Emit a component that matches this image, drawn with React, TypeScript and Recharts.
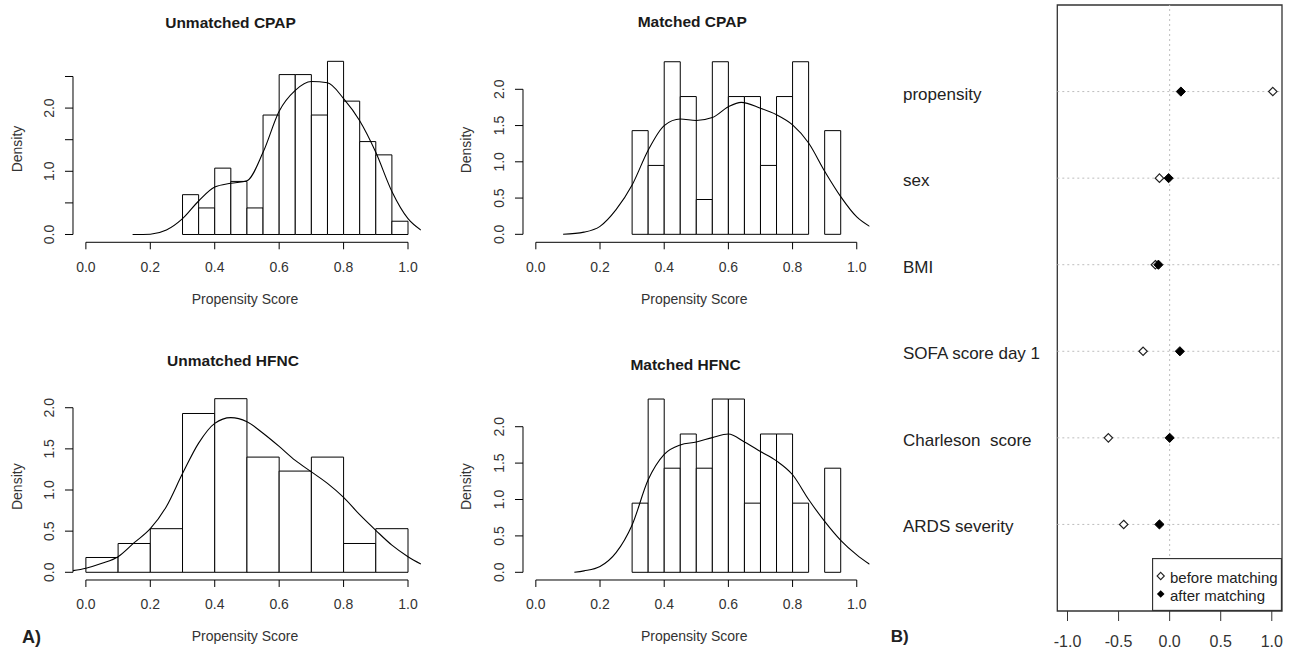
import React from 'react';
import {
  ComposedChart, XAxis, YAxis, Line, ReferenceArea, ReferenceLine, Scatter, Legend,
} from 'recharts';

// ---------------- DATA ----------------
const histXTicks = [0, 0.2, 0.4, 0.6, 0.8, 1.0];

// Unmatched CPAP
const ucBreaks = [0.3, 0.35, 0.4, 0.45, 0.5, 0.55, 0.6, 0.65, 0.7, 0.75, 0.8, 0.85, 0.9, 0.95, 1.0];
const ucDensity = [0.63, 0.42, 1.05, 0.84, 0.42, 1.89, 2.53, 2.53, 1.89, 2.74, 2.11, 1.47, 1.26, 0.21];
const ucCurveX = [0.145, 0.2, 0.25, 0.3, 0.35, 0.4, 0.45, 0.5, 0.55, 0.6, 0.65, 0.7, 0.75, 0.8, 0.85, 0.9, 0.95, 1.0, 1.04];
const ucCurveY = [0, 0.005, 0.07, 0.25, 0.53, 0.75, 0.81, 0.85, 1.3, 1.95, 2.28, 2.42, 2.4, 2.15, 1.8, 1.3, 0.68, 0.25, 0.07];
const ucYTicks = [0, 0.5, 1, 1.5, 2, 2.5];
const ucYLabels = [0, 1, 2];

// Matched CPAP
const mcBreaks = [0.3, 0.35, 0.4, 0.45, 0.5, 0.55, 0.6, 0.65, 0.7, 0.75, 0.8, 0.85, 0.9, 0.95];
const mcDensity = [1.43, 0.95, 2.38, 1.9, 0.48, 2.38, 1.9, 1.9, 0.95, 1.9, 2.38, 0, 1.43];
const mcCurveX = [0.085, 0.15, 0.2, 0.25, 0.3, 0.35, 0.4, 0.45, 0.5, 0.55, 0.6, 0.64, 0.7, 0.75, 0.8, 0.85, 0.9, 0.95, 1.0, 1.04];
const mcCurveY = [0, 0.03, 0.11, 0.34, 0.68, 1.16, 1.5, 1.59, 1.57, 1.61, 1.76, 1.82, 1.74, 1.65, 1.51, 1.26, 0.87, 0.52, 0.24, 0.11];

// Unmatched HFNC
const uhBreaks = [0, 0.1, 0.2, 0.3, 0.4, 0.5, 0.6, 0.7, 0.8, 0.9, 1.0];
const uhDensity = [0.18, 0.35, 0.53, 1.93, 2.11, 1.4, 1.23, 1.4, 0.35, 0.53];
const uhCurveX = [-0.04, 0, 0.05, 0.1, 0.15, 0.2, 0.25, 0.3, 0.35, 0.4, 0.45, 0.5, 0.55, 0.6, 0.65, 0.7, 0.75, 0.8, 0.85, 0.9, 0.95, 1.0, 1.04];
const uhCurveY = [0.02, 0.05, 0.11, 0.19, 0.36, 0.53, 0.8, 1.2, 1.57, 1.81, 1.88, 1.83, 1.69, 1.53, 1.36, 1.22, 1.08, 0.91, 0.7, 0.51, 0.33, 0.19, 0.1];

// Matched HFNC
const mhBreaks = [0.3, 0.35, 0.4, 0.45, 0.5, 0.55, 0.6, 0.65, 0.7, 0.75, 0.8, 0.85, 0.9, 0.95];
const mhDensity = [0.95, 2.38, 1.43, 1.9, 1.43, 2.38, 2.38, 0.95, 1.9, 1.9, 0.95, 0, 1.43];
const mhCurveX = [0.12, 0.15, 0.2, 0.25, 0.3, 0.35, 0.4, 0.45, 0.5, 0.55, 0.6, 0.65, 0.7, 0.75, 0.8, 0.85, 0.9, 0.95, 1.0, 1.04];
const mhCurveY = [0, 0.02, 0.08, 0.27, 0.65, 1.27, 1.62, 1.75, 1.79, 1.85, 1.9, 1.79, 1.66, 1.53, 1.34, 1.0, 0.7, 0.44, 0.24, 0.11];

const stdYTicks = [0, 0.5, 1, 1.5, 2];

// Balance plot
const rowLabels = ['propensity', 'sex', 'BMI', 'SOFA score day 1', 'Charleson  score', 'ARDS severity'];
const beforeMatching = [1.01, -0.1, -0.14, -0.26, -0.6, -0.45];
const afterMatching = [0.11, -0.01, -0.11, 0.1, 0.0, -0.1];
const balanceTicks = [-1, -0.5, 0, 0.5, 1];
const legendLabels = ['before matching', 'after matching'];

// ---------------- HELPERS ----------------
const FONT = '"Liberation Sans", Arial, sans-serif';

const makeBins = (breaks: number[], dens: number[]) =>
  dens.map((d, i) => ({ x1: breaks[i], x2: breaks[i + 1], d })).filter((b) => b.d > 0);
const makeCurve = (xs: number[], ys: number[]) => xs.map((x, i) => ({ x, y: ys[i] }));

type PanelProps = {
  plotLeft: number; plotTop: number; plotW: number; plotH: number;
  breaks: number[]; density: number[]; curveX: number[]; curveY: number[];
  yDomain: [number, number]; yTicks: number[]; yLabels: number[];
};

const YW = 73, MT = 55, XH = 80, MR = 20;
const X_DOMAIN: [number, number] = [-0.04, 1.04];

function HistPanel(p: PanelProps) {
  const width = YW + p.plotW + MR;
  const height = MT + p.plotH + XH;
  const bins = makeBins(p.breaks, p.density);
  const curve = makeCurve(p.curveX, p.curveY);
  const topTick = p.yTicks[p.yTicks.length - 1];
  const XTick = (t: any) => (
    <text x={t.x} y={t.y + 22.5} textAnchor="middle" fontSize={14} fill="#333" fontFamily={FONT}>
      {Number(t.payload.value).toFixed(1)}
    </text>
  );
  const YTick = (t: any) => {
    const v = Number(t.payload.value);
    if (!p.yLabels.some((l) => Math.abs(l - v) < 1e-9)) return <g />;
    const bx = t.x - 11.3;
    return (
      <text x={bx} y={t.y} transform={`rotate(-90 ${bx} ${t.y})`} textAnchor="middle" fontSize={14} fill="#333" fontFamily={FONT}>
        {v.toFixed(1)}
      </text>
    );
  };
  return (
    <div style={{ position: 'absolute', left: p.plotLeft - YW, top: p.plotTop - MT }}>
      <ComposedChart width={width} height={height} data={curve} margin={{ top: MT, right: MR, bottom: 0, left: 0 }}>
        <XAxis type="number" dataKey="x" domain={X_DOMAIN} ticks={histXTicks} allowDataOverflow interval={0}
          height={XH} axisLine={false} tickLine={{ stroke: '#000' }} tickSize={7} tickMargin={0} tick={XTick} />
        <YAxis type="number" domain={p.yDomain} ticks={p.yTicks} allowDataOverflow interval={0}
          width={YW} axisLine={false} tickLine={{ stroke: '#000' }} tickSize={8} tickMargin={0} tick={YTick} />
        {bins.map((b, i) => (
          <ReferenceArea key={i} x1={b.x1} x2={b.x2} y1={0} y2={b.d} fill="#fff" fillOpacity={1}
            stroke="#000" strokeWidth={1} strokeOpacity={1} ifOverflow="visible" />
        ))}
        <ReferenceLine segment={[{ x: 0, y: p.yDomain[0] }, { x: 1, y: p.yDomain[0] }]} stroke="#000" strokeWidth={1} ifOverflow="visible" />
        <ReferenceLine segment={[{ x: X_DOMAIN[0], y: 0 }, { x: X_DOMAIN[0], y: topTick }]} stroke="#000" strokeWidth={1} ifOverflow="visible" />
        <Line type="monotone" dataKey="y" stroke="#000" strokeWidth={1.1} dot={false} activeDot={false} isAnimationActive={false} />
      </ComposedChart>
    </div>
  );
}

const diamond = (cx: number, cy: number, r: number) =>
  `${cx},${cy - r} ${cx + r},${cy} ${cx},${cy + r} ${cx - r},${cy}`;

const OpenDiamond = (s: any) => (
  <polygon points={diamond(s.cx, s.cy, 4.2)} fill="#fff" stroke="#222" strokeWidth={1.2} />
);
const FilledDiamond = (s: any) => (
  <polygon points={diamond(s.cx, s.cy, 4.6)} fill="#000" stroke="#000" strokeWidth={1} />
);

function BalanceLegend() {
  return (
    <svg width={130} height={53} style={{ display: 'block' }}>
      <rect x={0.5} y={0.5} width={129} height={52} fill="#fff" stroke="#333" strokeWidth={1.3} />
      <polygon points={diamond(8.7, 18, 3.6)} fill="#fff" stroke="#222" strokeWidth={1.1} />
      <polygon points={diamond(8.7, 36, 3.8)} fill="#000" />
      <text x={18} y={25.3} fontSize={15} fill="#222" fontFamily={FONT}>{legendLabels[0]}</text>
      <text x={18} y={43} fontSize={15} fill="#222" fontFamily={FONT}>{legendLabels[1]}</text>
    </svg>
  );
}

function BalancePanel() {
  const n = rowLabels.length;
  const beforeData = beforeMatching.map((v, i) => ({ x: v, y: n - i }));
  const afterData = afterMatching.map((v, i) => ({ x: v, y: n - i }));
  const rowTicks = rowLabels.map((_, i) => n - i);
  const RowTick = (t: any) => {
    const idx = n - Number(t.payload.value);
    return (
      <text x={23} y={t.y + 8} fontSize={17} fill="#222" fontFamily={FONT} style={{ whiteSpace: 'pre' }}>
        {rowLabels[idx]}
      </text>
    );
  };
  const BTick = (t: any) => (
    <text x={t.x} y={t.y + 26.4} textAnchor="middle" fontSize={16} fill="#333" fontFamily={FONT}>
      {Number(t.payload.value).toFixed(1)}
    </text>
  );
  return (
    <div style={{ position: 'absolute', left: 880, top: 0 }}>
      <ComposedChart width={413} height={653} margin={{ top: 5, right: 11, bottom: 0, left: 0 }}>
        <XAxis type="number" dataKey="x" domain={[-1.1, 1.1]} ticks={balanceTicks} allowDataOverflow interval={0}
          height={42} axisLine={false} tickSize={10} tickMargin={0} tickLine={{ stroke: '#333' }} tick={BTick} />
        <YAxis type="number" dataKey="y" domain={[0, 7]} ticks={rowTicks} allowDataOverflow interval={0}
          width={177.3} axisLine={false} tickLine={false} tick={RowTick} />
        <ReferenceLine x={0} stroke="#bdbdbd" strokeDasharray="2 3" strokeWidth={1} />
        {rowTicks.map((r) => (
          <ReferenceLine key={r} y={r} stroke="#bdbdbd" strokeDasharray="2 3" strokeWidth={1} />
        ))}
        <ReferenceArea x1={-1.1} x2={1.1} y1={0} y2={7} fill="#fff" fillOpacity={0} stroke="#333" strokeWidth={1.3} ifOverflow="visible" />
        <Scatter name={legendLabels[0]} data={beforeData} shape={OpenDiamond} isAnimationActive={false} />
        <Scatter name={legendLabels[1]} data={afterData} shape={FilledDiamond} isAnimationActive={false} />
        <Legend layout="horizontal" verticalAlign="middle" align="center" content={() => <BalanceLegend />}
          wrapperStyle={{ position: 'absolute', left: 272, top: 558, width: 130, height: 53, margin: 0, padding: 0 }} />
      </ComposedChart>
    </div>
  );
}

export default function App() {
  return (
    <div style={{ position: 'absolute', left: 0, top: 0, width: 1293, height: 653, background: '#fff', overflow: 'hidden', fontFamily: FONT }}>
      <HistPanel plotLeft={73.3} plotTop={55} plotW={347.9} plotH={187.3}
        breaks={ucBreaks} density={ucDensity} curveX={ucCurveX} curveY={ucCurveY}
        yDomain={[-0.1234, 2.84]} yTicks={ucYTicks} yLabels={ucYLabels} />
      <HistPanel plotLeft={523.2} plotTop={55} plotW={346.6} plotH={187.3}
        breaks={mcBreaks} density={mcDensity} curveX={mcCurveX} curveY={mcCurveY}
        yDomain={[-0.11, 2.473]} yTicks={stdYTicks} yLabels={stdYTicks} />
      <HistPanel plotLeft={73.3} plotTop={393} plotW={347.9} plotH={187}
        breaks={uhBreaks} density={uhDensity} curveX={uhCurveX} curveY={uhCurveY}
        yDomain={[-0.0936, 2.179]} yTicks={stdYTicks} yLabels={stdYTicks} />
      <HistPanel plotLeft={523.2} plotTop={393} plotW={346.6} plotH={187}
        breaks={mhBreaks} density={mhDensity} curveX={mhCurveX} curveY={mhCurveY}
        yDomain={[-0.1058, 2.463]} yTicks={stdYTicks} yLabels={stdYTicks} />
      <BalancePanel />
      <svg width={1293} height={653} style={{ position: 'absolute', left: 0, top: 0, pointerEvents: 'none' }} fontFamily={FONT}>
        <g fontWeight="bold" fontSize={15.5} fill="#1a1a1a" textAnchor="middle">
          <text x={230.5} y={28.2}>Unmatched CPAP</text>
          <text x={692.2} y={27.2}>Matched CPAP</text>
          <text x={233} y={365.5}>Unmatched HFNC</text>
          <text x={685.5} y={369.8}>Matched HFNC</text>
        </g>
        <g fontSize={14} fill="#333" textAnchor="middle">
          <text x={245} y={304}>Propensity Score</text>
          <text x={694.2} y={304}>Propensity Score</text>
          <text x={245} y={641}>Propensity Score</text>
          <text x={694.2} y={641}>Propensity Score</text>
          <text x={21.7} y={149} transform="rotate(-90 21.7 149)">Density</text>
          <text x={471} y={150} transform="rotate(-90 471 150)">Density</text>
          <text x={21.7} y={486.7} transform="rotate(-90 21.7 486.7)">Density</text>
          <text x={471} y={486.7} transform="rotate(-90 471 486.7)">Density</text>
        </g>
        <text x={22} y={642.7} fontSize={18} fontWeight="bold" fill="#222">A)</text>
        <text x={890.7} y={641.7} fontSize={17} fontWeight="bold" fill="#222">B)</text>
      </svg>
    </div>
  );
}
